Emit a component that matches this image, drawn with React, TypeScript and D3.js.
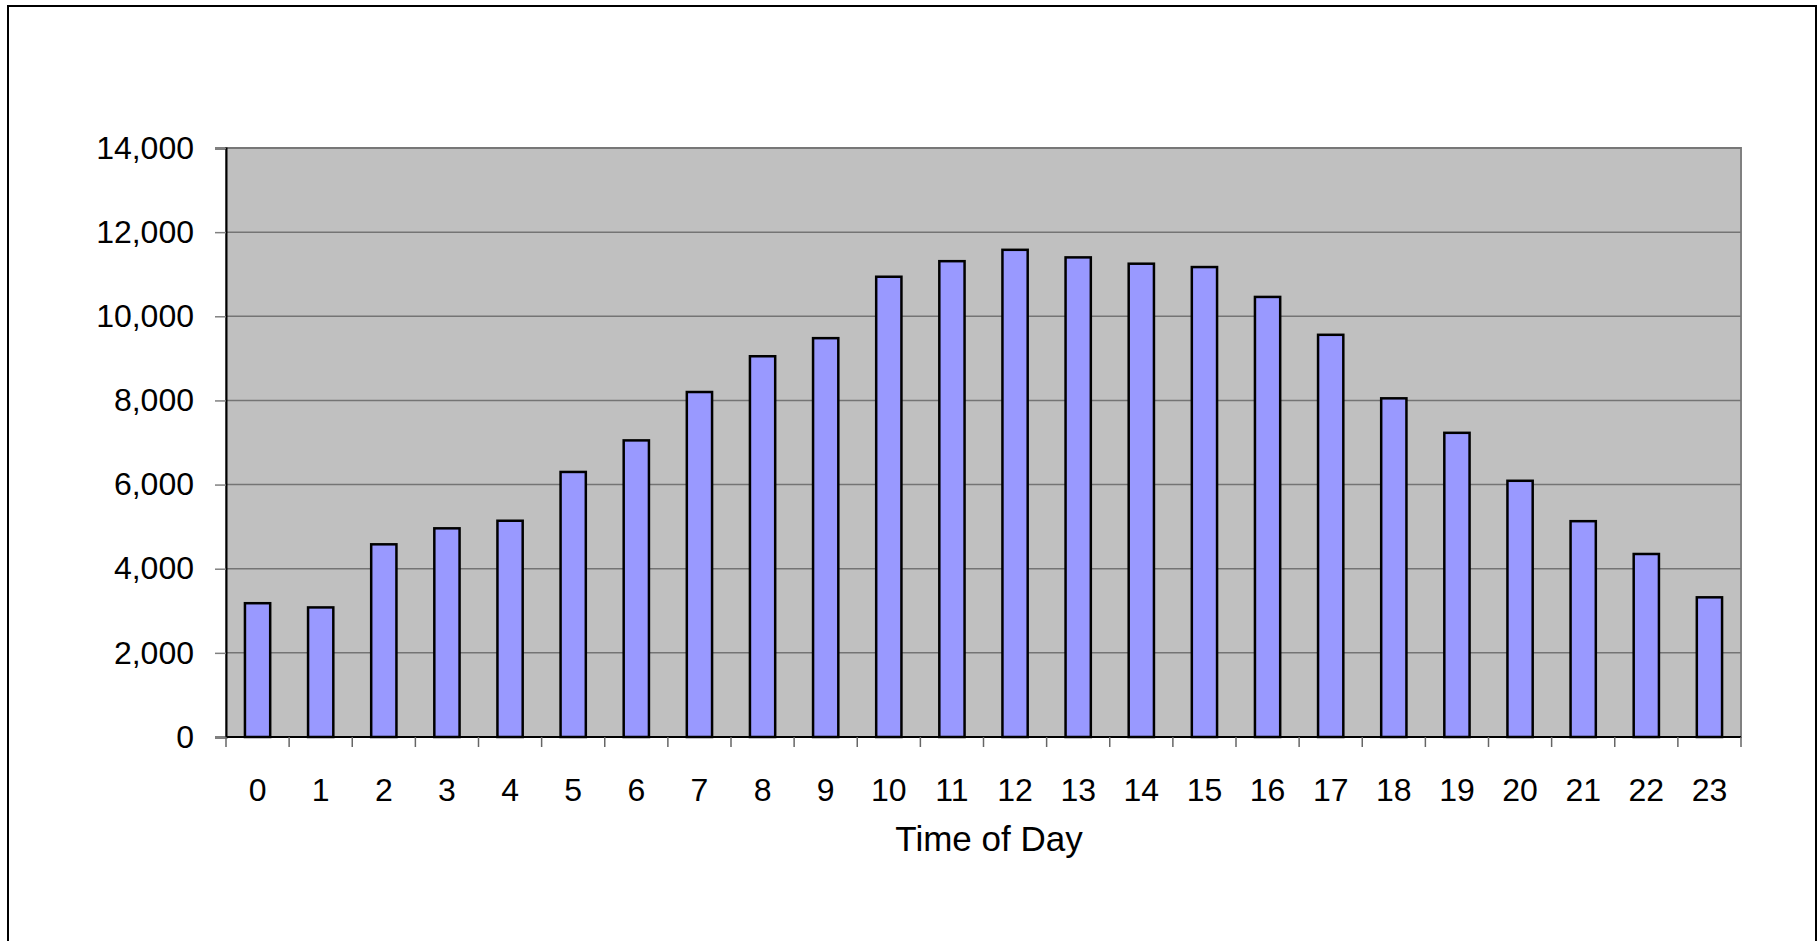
import React, { useEffect, useRef } from 'react'
import * as d3 from 'd3'

const hours = ['0', '1', '2', '3', '4', '5', '6', '7', '8', '9', '10', '11', '12', '13', '14', '15', '16', '17', '18', '19', '20', '21', '22', '23']
const counts = [3180, 3080, 4580, 4960, 5140, 6300, 7050, 8200, 9050, 9480, 10940, 11310, 11580, 11400, 11250, 11170, 10460, 9560, 8050, 7230, 6090, 5130, 4350, 3320]
const yTicks = [0, 2000, 4000, 6000, 8000, 10000, 12000, 14000]
const xTitle = 'Time of Day'

const width = 1818
const height = 941
const margin = { top: 148, right: 77, bottom: 204, left: 226 }
const font = '"Liberation Sans", Arial, sans-serif'

const BarChart: React.FC = () => {
    const svgRef = useRef<SVGSVGElement | null>(null)

    useEffect(() => {
        const svg = d3.select(svgRef.current)
        svg.selectAll('*').remove()

        const x0 = margin.left
        const x1 = width - margin.right
        const y0 = height - margin.bottom
        const y1 = margin.top

        const xScale = d3.scaleBand<string>().domain(hours).range([x0, x1]).paddingInner(0.6).paddingOuter(0.3)
        const yScale = d3.scaleLinear().domain([0, 14000]).range([y0, y1])

        // chart area border
        svg.append('rect')
            .attr('x', 8).attr('y', 6)
            .attr('width', 1808).attr('height', 980)
            .attr('fill', '#fff').attr('stroke', '#000').attr('stroke-width', 2)

        // plot area
        svg.append('rect')
            .attr('x', x0).attr('y', y1)
            .attr('width', x1 - x0).attr('height', y0 - y1)
            .attr('fill', '#c0c0c0').attr('stroke', '#808080').attr('stroke-width', 2)

        // gridlines
        svg.append('g')
            .selectAll('line')
            .data(yTicks.filter(d => d > 0))
            .join('line')
            .attr('x1', x0).attr('x2', x1)
            .attr('y1', d => yScale(d)).attr('y2', d => yScale(d))
            .attr('stroke', '#747474').attr('stroke-width', 1.5)

        // bars
        svg.append('g')
            .selectAll('rect')
            .data(counts)
            .join('rect')
            .attr('x', (d, i) => xScale(hours[i])!)
            .attr('y', d => yScale(d))
            .attr('width', xScale.bandwidth())
            .attr('height', d => y0 - yScale(d))
            .attr('fill', '#9999ff')
            .attr('stroke', '#000')
            .attr('stroke-width', 2.5)

        // Y axis
        const yAxis = svg.append('g')
            .attr('transform', `translate(${x0}, 0)`)
            .call(d3.axisLeft(yScale).tickValues(yTicks).tickSize(11).tickPadding(21).tickFormat(d3.format(',') as any))
        yAxis.select('.domain').attr('stroke', '#000').attr('stroke-width', 2)
        yAxis.selectAll('.tick line').attr('stroke', '#808080').attr('stroke-width', 1.5)
        yAxis.selectAll('.tick text')
            .attr('fill', '#000')
            .style('font-family', font)
            .style('font-size', '32px')

        // X axis (ticks between categories)
        const xAxis = svg.append('g').attr('transform', `translate(0, ${y0})`)
        xAxis.append('line')
            .attr('x1', x0).attr('x2', x1)
            .attr('stroke', '#000').attr('stroke-width', 2)
        xAxis.selectAll('line.tick')
            .data(d3.range(hours.length + 1))
            .join('line')
            .attr('class', 'tick')
            .attr('x1', i => x0 + i * xScale.step()).attr('x2', i => x0 + i * xScale.step())
            .attr('y1', 0).attr('y2', 10)
            .attr('stroke', '#666').attr('stroke-width', 1.5)
        xAxis.selectAll('text')
            .data(hours)
            .join('text')
            .attr('x', d => xScale(d)! + xScale.bandwidth() / 2)
            .attr('y', 64)
            .attr('text-anchor', 'middle')
            .style('font-family', font)
            .style('font-size', '32px')
            .text(d => d)

        // X axis title
        svg.append('text')
            .attr('x', 989)
            .attr('y', 851)
            .attr('text-anchor', 'middle')
            .style('font-family', font)
            .style('font-size', '35px')
            .text(xTitle)
    }, [])

    return <svg ref={svgRef} width={width} height={height} style={{ display: 'block' }} />
}

export default function App() {
    return (
        <div style={{ position: 'fixed', left: 0, top: 0, width, height, overflow: 'hidden', background: '#fff' }}>
            <BarChart />
        </div>
    )
}
